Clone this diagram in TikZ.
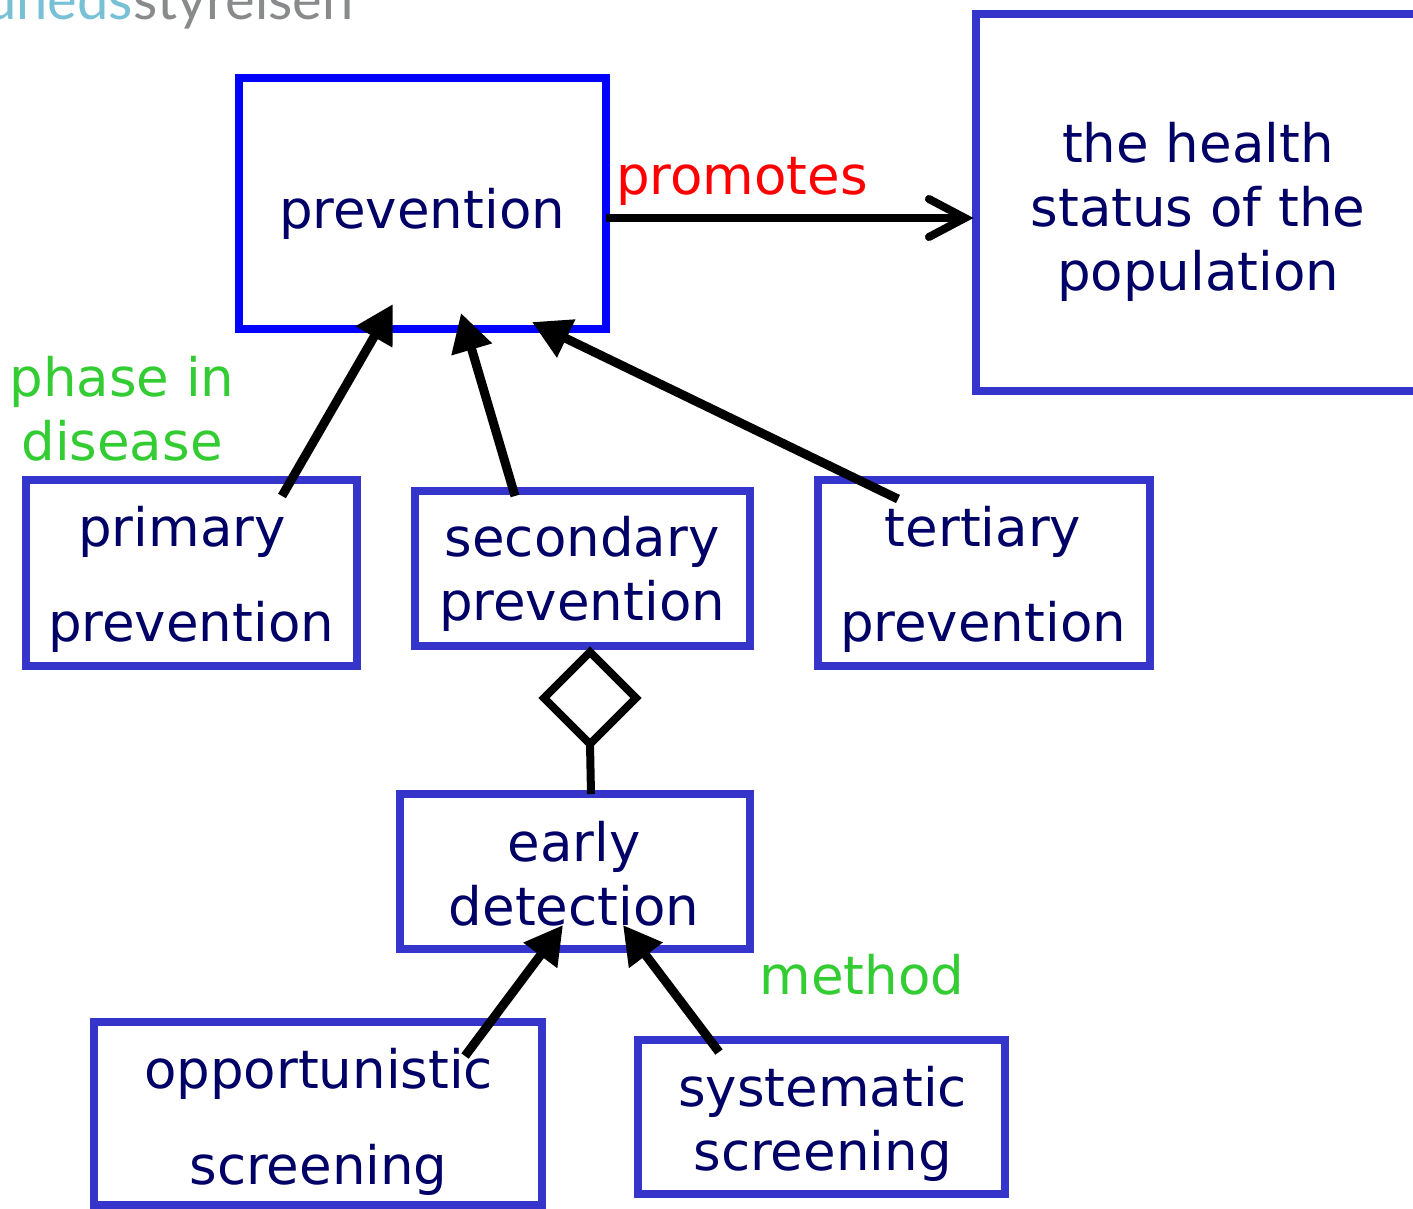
\documentclass[tikz,border=0pt]{standalone}
\usepackage{fontspec}
\setmainfont{DejaVu Sans}
\newfontfamily\logofont{Lato}
\usetikzlibrary{arrows.meta,shapes.geometric}
\definecolor{boxblue}{RGB}{53,53,204}
\definecolor{purblue}{RGB}{0,0,255}
\definecolor{navy}{RGB}{0,0,102}
\definecolor{lblgreen}{RGB}{51,204,51}
\definecolor{logoblue}{RGB}{120,192,214}
\definecolor{logogrey}{RGB}{136,138,140}
\newcommand{\txtat}[3]{\raisebox{-#2pt}[0pt][0pt]{\hbox to 0pt{\hss\kern#1pt\kern#1pt\color{navy}\begin{tabular}[t]{@{}c@{}}#3\end{tabular}\hss}}}
% name, left, top, right, bottom, style, text dx, first-baseline dy (from box centre), text
\newcommand{\bx}[9]{%
  \pgfmathsetmacro{\bcx}{(#2+#4)/2}\pgfmathsetmacro{\bcy}{(#3+#5)/2}%
  \pgfmathsetmacro{\bw}{#4-#2}\pgfmathsetmacro{\bh}{#5-#3}%
  \pgfmathsetmacro{\tdx}{#7-\bcx}\pgfmathsetmacro{\tdy}{#8-\bcy}%
  \node[#6,minimum width=\bw pt,minimum height=\bh pt] (#1) at (\bcx,\bcy) {\txtat{\tdx}{\tdy}{#9}};}
\tikzset{
  x=1pt,y=-1pt,
  conceptbox/.style={draw=boxblue,line width=8pt,inner sep=0pt,outer sep=0pt,font=\fontsize{53}{64}\selectfont},
  mainbox/.style={conceptbox,draw=purblue},
  linklabel/.style={inner sep=0pt,anchor=base,align=center,font=\fontsize{53}{64}\selectfont},
  isa/.style={draw=black,line width=9pt,-{Triangle[length=38pt,width=40pt]}},
  assoc/.style={draw=black,line width=8pt,-{Straight Barb[length=36pt,width=38pt,line cap=round]}},
  partof/.style={draw=black,line width=8pt},
  aggr/.style={diamond,aspect=1,draw=black,line width=8pt,inner sep=0pt,outer sep=0pt,minimum width=92pt,minimum height=92pt},
  logotext/.style={inner sep=0pt,font=\logofont\fontsize{56}{56}\selectfont}
}
\begin{document}
\begin{tikzpicture}
\useasboundingbox (0,0) rectangle (1413,1208);
\clip (0,0) rectangle (1413,1208);
\node[logotext,anchor=base east,text=logoblue] (logoa) at (133,19) {Sundheds};
\node[logotext,anchor=base west,text=logogrey] (logob) at (133,19) {styrelsen};

\bx{prev}{238.5}{78}{605.5}{329}{mainbox}{422}{228.5}{prevention}
\bx{health}{975.5}{14}{1420.5}{391}{conceptbox}{1198}{162.5}{the health\\status of the\\population}
\bx{prim}{25.5}{480}{357}{666}{conceptbox}{191}{546.5}{primary\hspace*{18pt}\\[31pt]prevention}
\bx{sec}{414.5}{491}{750}{646}{conceptbox}{582}{556.5}{secondary\\prevention}
\bx{tert}{818}{480}{1150}{666}{conceptbox}{983}{546.5}{tertiary\\[31pt]prevention}
\bx{early}{399.5}{794}{750}{949}{conceptbox}{574}{861.5}{early\\detection}
\bx{opp}{94}{1022}{542}{1205}{conceptbox}{318.5}{1088.5}{opportunistic\\[32pt]screening}
\bx{sys}{638}{1040}{1005}{1194}{conceptbox}{822.5}{1106.5}{systematic\\screening}
\node[aggr] (dia) at (590,698) {};

\node[linklabel,text=red] (promotes) at (742,194.5) {promotes};
\node[linklabel,text=lblgreen] (phase) at (122,396.5) {phase in};
\node[linklabel,text=lblgreen] (phaseb) at (122,460.5) {disease};
\node[linklabel,text=lblgreen] (method) at (862,994.5) {method};

\draw[assoc] (prev.east |- 0,218) -- ([xshift=-2pt]health.west |- 0,218);
\draw[isa] ([shift={(90.75,-77)}]prim.center) -- ([shift={(-29,-25)}]prev.south);
\draw[isa] ([shift={(100.5,5)}]sec.north west) -- ([shift={(39,-16)}]prev.south);
\draw[isa] ([shift={(80,19)}]tert.north west) -- ([shift={(110,-7)}]prev.south);
\draw[partof] (dia.south) -- ([xshift=16.25pt]early.north);
\draw[isa] ([shift={(371,34)}]opp.north west) -- ([shift={(163.5,131)}]early.north west);
\draw[isa] ([shift={(81,12)}]sys.north west) -- ([shift={(223.5,131)}]early.north west);
\end{tikzpicture}
\end{document}
